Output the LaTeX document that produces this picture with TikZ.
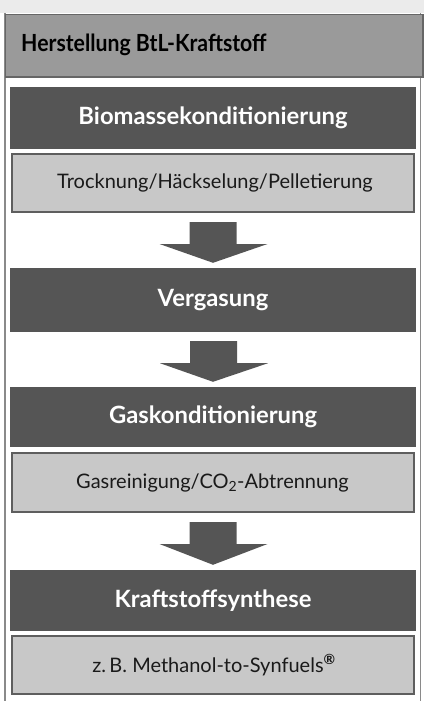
\documentclass[tikz,border=0pt]{standalone}
\usepackage{fontspec}
\setmainfont{Lato}
\newfontfamily\headfont[FakeStretch=0.9]{Lato}
\usetikzlibrary{calc}
\definecolor{bandgray}{HTML}{EBEBEB}
\definecolor{framegray}{HTML}{8A8A8A}
\definecolor{headfill}{HTML}{9A9A9A}
\definecolor{headline}{HTML}{666666}
\definecolor{darkbox}{HTML}{555555}
\definecolor{lightfill}{HTML}{C8C8C8}
\definecolor{lightline}{HTML}{5E5E5E}
\definecolor{lighttext}{HTML}{1A1A1A}
\tikzset{
  darkstep/.style={rectangle, fill=darkbox, text=white, inner sep=0pt,
    minimum width=406pt, font=\fontsize{23.8}{27}\selectfont\bfseries},
  lightstep/.style={rectangle, fill=lightfill, draw=lightline, line width=2pt,
    text=lighttext, inner sep=0pt, minimum width=402pt,
    font=\fontsize{20}{23}\selectfont},
  blockarrow/.style={fill=darkbox}
}
\begin{document}
\begin{tikzpicture}[x=1pt,y=-1pt]
\useasboundingbox (0,0) rectangle (424,701);
\fill[white] (0,0) rectangle (424,701);
\fill[bandgray] (0,0) rectangle (424,13);
% frame
\draw[framegray, line width=1.5pt] (4.75,13) -- (4.75,701);
\draw[framegray, line width=1.5pt] (420.25,13) -- (420.25,701);
% header
\node[rectangle, fill=headfill, draw=headline, line width=1.5pt,
      minimum width=417.5pt, minimum height=62pt, inner sep=0pt, anchor=north west]
      (head) at (4.75,14) {};
\node[anchor=west, inner sep=0pt, font=\headfont\fontsize{23.6}{27}\selectfont\bfseries]
      (headtext) at (21,45) {Herstellung BtL-Kraftstoff};
% steps
\node[darkstep, minimum height=62pt] (d1) at (213,118) {Biomassekonditionierung};
\node[lightstep, minimum height=58pt] (l1) at (212.5,183) {\hspace*{5pt}Trocknung/Häckselung/Pelletierung};
\node[darkstep, minimum height=64pt] (d2) at (213,300) {Vergasung};
\node[darkstep, minimum height=60pt] (d3) at (213,417) {Gaskonditionierung};
\node[lightstep, minimum height=59pt] (l3) at (212.5,482.5) {Gasreinigung/CO\textsubscript{2}-Abtrennung};
\node[darkstep, minimum height=61pt] (d4) at (213,600.5) {Kraftstoffsynthese};
\node[lightstep, minimum height=58pt] (l4) at (212.5,665) {\hspace*{3pt}z.\,B. Methanol-to-Synfuels\textsuperscript{\bfseries ®}};
% block arrows
\foreach \a/\b in {l1/d2, d2/d3, l3/d4}{
  \coordinate (top) at ($(\a.south)+(0.5,9)$);
  \coordinate (tip) at ($(\b.north)+(0,-5)$);
  \fill[blockarrow] ($(top)+(-23.5,0)$) -- ($(top)+(23.5,0)$)
     -- ($(top)+(23.5,22)$) -- ($(top)+(54.5,22)$) -- (tip)
     -- ($(top)+(-53.5,22)$) -- ($(top)+(-23.5,22)$) -- cycle;
}
\end{tikzpicture}
\end{document}
